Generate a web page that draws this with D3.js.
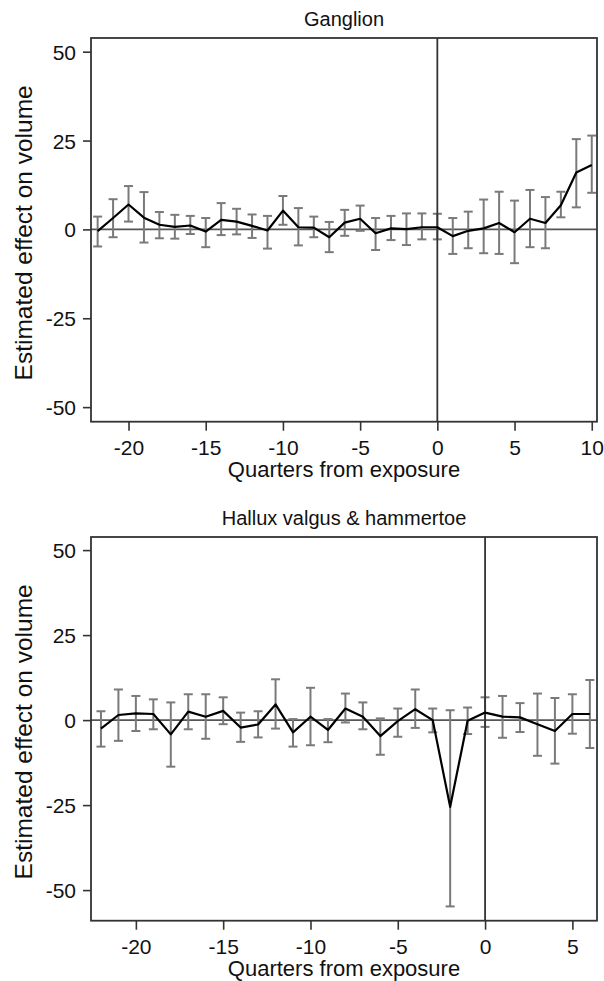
<!DOCTYPE html>
<html>
<head>
<meta charset="utf-8">
<script src="https://cdn.jsdelivr.net/npm/d3@7/dist/d3.min.js"></script>
<style>
  html, body { margin: 0; padding: 0; background: #fff; }
  svg { display: block; }
  text { font-family: "Liberation Sans", Arial, sans-serif; fill: #111; }
</style>
</head>
<body>
<svg id="chart" width="604" height="981"></svg>
<script>
// Event-study estimates: quarter offsets, point estimates and 95% CI bounds
const ganglionQuarter = [-22,-21,-20,-19,-18,-17,-16,-15,-14,-13,-12,-11,-10,-9,-8,-7,-6,-5,-4,-3,-2,-1,0,1,2,3,4,5,6,7,8,9,10];
const ganglionEst   = [-0.5,3.2,7.0,3.3,1.3,0.7,1.1,-0.6,2.7,2.2,1.0,-0.3,5.3,0.6,0.5,-2.2,1.9,3.0,-1.1,0.3,0.1,0.6,0.6,-1.9,-0.4,0.3,1.8,-0.8,3.0,1.8,6.8,16.0,18.1];
const ganglionLower = [-4.8,-2.2,2.2,-3.7,-2.5,-2.6,-1.3,-5.0,-1.6,-1.4,-2.4,-5.4,1.3,-4.5,-2.2,-6.4,-1.8,-0.4,-5.8,-3.0,-4.4,-2.8,-2.8,-6.9,-5.3,-6.7,-6.9,-9.5,-5.0,-5.3,3.4,6.2,10.3];
const ganglionUpper = [3.6,8.5,12.2,10.5,4.9,4.1,3.8,3.2,7.4,5.8,4.2,3.8,9.4,6.0,3.6,2.1,5.5,6.7,3.2,3.8,4.5,4.5,4.4,3.2,5.0,8.4,10.6,8.1,11.1,9.1,10.6,25.4,26.4];

const halluxQuarter = [-22,-21,-20,-19,-18,-17,-16,-15,-14,-13,-12,-11,-10,-9,-8,-7,-6,-5,-4,-3,-2,-1,0,1,2,3,4,5,6];
const halluxEst   = [-2.5,1.5,2.0,1.8,-4.2,2.5,1.0,2.7,-2.2,-1.3,4.6,-3.6,1.0,-2.9,3.4,1.0,-4.7,-0.3,3.2,0.0,-25.5,-0.2,2.2,1.0,0.8,-1.2,-3.2,1.8,1.8];
const halluxLower = [-7.8,-6.1,-3.2,-2.7,-13.7,-2.7,-5.5,-1.2,-6.4,-5.1,-2.5,-7.8,-7.4,-6.5,-0.7,-2.7,-10.2,-4.9,-2.3,-3.6,-54.8,-4.1,-2.0,-5.2,-3.5,-10.5,-12.8,-4.0,-8.2];
const halluxUpper = [2.6,9.0,7.1,6.1,5.2,7.6,7.6,6.7,2.2,2.6,12.0,0.3,9.5,0.3,7.8,5.2,0.5,3.4,9.0,3.4,2.9,3.7,6.7,7.1,5.0,7.8,6.5,7.6,11.8];

const yTicks = [-50, -25, 0, 25, 50];
const xTicksGanglion = [-20, -15, -10, -5, 0, 5, 10];
const xTicksHallux = [-20, -15, -10, -5, 0, 5];

const panelTitles = ["Ganglion", "Hallux valgus & hammertoe"];
const xTitle = "Quarters from exposure";
const yTitle = "Estimated effect on volume";

const FONT_TICK = 21;
const FONT_TITLE = 20;
const FONT_XTITLE = 22;
const FONT_YTITLE = 24.5;

const svg = d3.select("#chart");

function panel(cfg) {
  const { title, quarter, est, lower, upper, xDomain, yDomain, box, xTicks } = cfg;
  const x = d3.scaleLinear().domain(xDomain).range([box.x0, box.x1]);
  const y = d3.scaleLinear().domain(yDomain).range([box.y1, box.y0]);
  const g = svg.append("g");

  const rows = quarter.map((q, i) => ({ q, est: est[i], lo: lower[i], hi: upper[i] }));

  // horizontal reference line at zero effect
  g.append("line")
    .attr("x1", box.x0).attr("x2", box.x1)
    .attr("y1", y(0)).attr("y2", y(0))
    .attr("stroke", "#555").attr("stroke-width", 1.6);

  // confidence intervals with caps
  const ci = g.append("g").attr("stroke", "#7a7a7a").attr("stroke-width", 2).attr("fill", "none");
  const cap = 4.5;
  rows.forEach(d => {
    ci.append("line").attr("x1", x(d.q)).attr("x2", x(d.q)).attr("y1", y(d.lo)).attr("y2", y(d.hi));
    ci.append("line").attr("x1", x(d.q) - cap).attr("x2", x(d.q) + cap).attr("y1", y(d.lo)).attr("y2", y(d.lo));
    ci.append("line").attr("x1", x(d.q) - cap).attr("x2", x(d.q) + cap).attr("y1", y(d.hi)).attr("y2", y(d.hi));
  });

  // vertical line at the exposure quarter
  g.append("line")
    .attr("x1", x(0)).attr("x2", x(0))
    .attr("y1", box.y0).attr("y2", box.y1)
    .attr("stroke", "#333").attr("stroke-width", 1.8);

  // point estimates
  g.append("path")
    .datum(rows)
    .attr("fill", "none").attr("stroke", "#000").attr("stroke-width", 2.2)
    .attr("stroke-linejoin", "round")
    .attr("d", d3.line().x(d => x(d.q)).y(d => y(d.est)));

  // frame
  g.append("rect")
    .attr("x", box.x0).attr("y", box.y0)
    .attr("width", box.x1 - box.x0).attr("height", box.y1 - box.y0)
    .attr("fill", "none").attr("stroke", "#333").attr("stroke-width", 1.8);

  // axes (plain hyphen for negatives)
  const fmt = d => String(d);
  const xAxis = g.append("g").attr("transform", `translate(0,${box.y1})`)
    .call(d3.axisBottom(x).tickValues(xTicks).tickSize(9).tickFormat(fmt));
  const yAxis = g.append("g").attr("transform", `translate(${box.x0},0)`)
    .call(d3.axisLeft(y).tickValues(yTicks).tickSize(8).tickFormat(fmt));
  [xAxis, yAxis].forEach(a => {
    a.select(".domain").remove();
    a.selectAll(".tick line").attr("stroke", "#333").attr("stroke-width", 1.6);
    a.selectAll(".tick text").attr("font-size", FONT_TICK).attr("fill", "#111")
      .style("font-family", '"Liberation Sans", Arial, sans-serif');
  });
  xAxis.selectAll(".tick text").attr("y", 33).attr("dy", 0);
  yAxis.selectAll(".tick text").attr("x", -15).attr("dy", "0.36em");

  const cx = (box.x0 + box.x1) / 2;
  g.append("text")
    .attr("x", cx).attr("y", box.y0 - 12)
    .attr("text-anchor", "middle").attr("font-size", FONT_TITLE).text(title);

  g.append("text")
    .attr("x", cx).attr("y", box.y1 + 55)
    .attr("text-anchor", "middle").attr("font-size", FONT_XTITLE).text(xTitle);

  g.append("text")
    .attr("transform", `translate(32,${(box.y0 + box.y1) / 2 + 3}) rotate(-90)`)
    .attr("text-anchor", "middle").attr("font-size", FONT_YTITLE).text(yTitle);
}

panel({
  title: panelTitles[0],
  quarter: ganglionQuarter, est: ganglionEst, lower: ganglionLower, upper: ganglionUpper,
  xDomain: [-22.43, 10.34], yDomain: [-54.1, 53.85],
  box: { x0: 91, x1: 597, y0: 38, y1: 421.7 },
  xTicks: xTicksGanglion
});

panel({
  title: panelTitles[1],
  quarter: halluxQuarter, est: halluxEst, lower: halluxLower, upper: halluxUpper,
  xDomain: [-22.57, 6.41], yDomain: [-59.0, 53.85],
  box: { x0: 91, x1: 597, y0: 537, y1: 920.7 },
  xTicks: xTicksHallux
});
</script>
</body>
</html>
